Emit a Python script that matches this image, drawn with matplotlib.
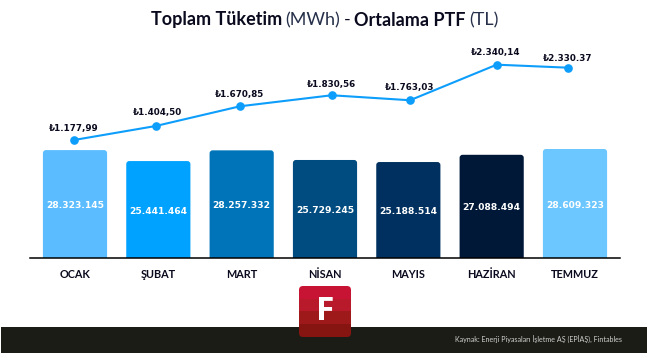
import numpy as np
import matplotlib
matplotlib.use("Agg")
import matplotlib.pyplot as plt
from matplotlib.patches import FancyBboxPatch, Rectangle

# Data
months = ["OCAK", "ŞUBAT", "MART", "NİSAN", "MAYIS", "HAZİRAN", "TEMMUZ"]
consumption = [28323145, 25441464, 28257332, 25729245, 25188514, 27088494, 28609323]
consumption_labels = ["28.323.145", "25.441.464", "28.257.332", "25.729.245",
                      "25.188.514", "27.088.494", "28.609.323"]
ptf_labels = ["₺1.177,99", "₺1.404,50", "₺1.670,85", "₺1.830,56",
              "₺1.763,03", "₺2.340,14", "₺2.330.37"]
# the line does not sit on the labelled values or the bar centres, so read it off the picture
ptf_line_pos = [-0.01, 0.97, 1.98, 3.08, 4.02, 5.06, 5.91]
ptf_line_val = [1178, 1394, 1698, 1868, 1791, 2340, 2294]

bar_colors = ["#5bbdff", "#00a2ff", "#0074b8", "#004c80", "#00305f", "#001838", "#6cc6ff"]
line_color = "#0d9dfb"
text_color = "#0a0a1e"

fig = plt.figure(figsize=(6.47, 3.53), dpi=100)

# Page layer in pixels: dark footer and logo
bg = fig.add_axes([0, 0, 1, 1], zorder=0)
bg.set_xlim(0, 647)
bg.set_ylim(353, 0)
bg.axis("off")
bg.add_patch(Rectangle((1, 327), 646, 26, color="#1c1c17", lw=0))

# Chart
ax = fig.add_axes([30 / 647, 95 / 353, 590 / 647, 258 / 353], zorder=1)
ax.patch.set_alpha(0)
ax.set_xlim(-0.54, 6.54)
ax.set_ylim(0, 258 / 3.81 * 1e6)
px_x = 83.33
px_y = 3.81e-6
for i, val in enumerate(consumption):
    # start below zero so only the top corners show rounded
    box = FancyBboxPatch((i - 0.385, -2e6), 0.77, val + 2e6,
                         boxstyle="round,pad=0,rounding_size=%f" % (3 / px_x),
                         mutation_aspect=px_x / px_y,
                         facecolor=bar_colors[i], edgecolor="none")
    ax.add_patch(box)
    ax.text(i, val * 0.5 - 0.4e6, consumption_labels[i], color="white", ha="center", va="center",
            fontsize=6.6, fontweight="bold", family="DejaVu Sans")

ax.set_xticks(range(len(months)))
ax.set_xticklabels(months, fontsize=7.8, fontweight="bold", family="Lato", color=text_color)
ax.tick_params(axis="x", length=0, pad=7.8)
ax.set_yticks([])
for side in ["top", "left", "right"]:
    ax.spines[side].set_visible(False)
ax.spines["bottom"].set_linewidth(1.1)
ax.spines["bottom"].set_color("#000000")

# PTF line on its own scale
ax2 = ax.twinx()
ax2.set_ylim(-643, 3338)
ax2.axis("off")
ax2.plot(ptf_line_pos, ptf_line_val, color=line_color, lw=1.5, marker="o", ms=5.2)
label_dx = [0, 1.4, 0, 0, 0, -0.5, 0]
label_dy = [8.6, 9.6, 8.6, 7.4, 9.3, 8.6, 6.9]
for x, y, lab, dx, dy in zip(ptf_line_pos, ptf_line_val, ptf_labels, label_dx, label_dy):
    ax2.annotate(lab, (x, y), xytext=(dx, dy), textcoords="offset points", ha="center", va="center",
                 fontsize=6.3, fontweight="bold", family="DejaVu Sans", color=text_color)

# Title in mixed weights, laid out piece by piece
parts = [("Toplam Tüketim", "bold", "#0a0a1e"), ("(MWh)", "normal", "#26304a"),
         ("-", "normal", "#0a0a1e"), ("Ortalama PTF", "bold", "#0a0a1e"), ("(TL)", "normal", "#26304a")]
fig.canvas.draw()
renderer = fig.canvas.get_renderer()
x_pos = 151
for txt, weight, col in parts:
    t = bg.text(x_pos, 20, txt, fontsize=13, fontweight=weight, family="Lato", color=col, va="center", ha="left")
    x_pos += t.get_window_extent(renderer).width + 3.4

# Source
bg.text(622, 340, "Kaynak: Enerji Piyasaları İşletme AŞ (EPİAŞ), Fintables", fontsize=5.15, color="#cfcfcf",
        family="Lato", ha="right", va="center")

# Logo, drawn above the footer
logo_bands = ["#c81434", "#b81a2c", "#9e1a1a", "#861512"]
logo = fig.add_axes([0, 0, 1, 1], zorder=2)
logo.set_xlim(0, 647)
logo.set_ylim(353, 0)
logo.axis("off")
clip = FancyBboxPatch((299, 286), 52, 51, boxstyle="round,pad=0,rounding_size=4", facecolor="none", edgecolor="none")
logo.add_patch(clip)
band_rgb = np.array([matplotlib.colors.to_rgb(c) for c in logo_bands]).reshape(4, 1, 3)
img = logo.imshow(band_rgb, extent=(299, 351, 337, 286), aspect="auto", interpolation="nearest")
img.set_clip_path(clip)
logo.set_xlim(0, 647)
logo.set_ylim(353, 0)
logo.text(325, 311, "F", color="white", fontsize=24, fontweight="bold", family="Open Sans", ha="center", va="center")

plt.savefig("out.png", dpi=100)
